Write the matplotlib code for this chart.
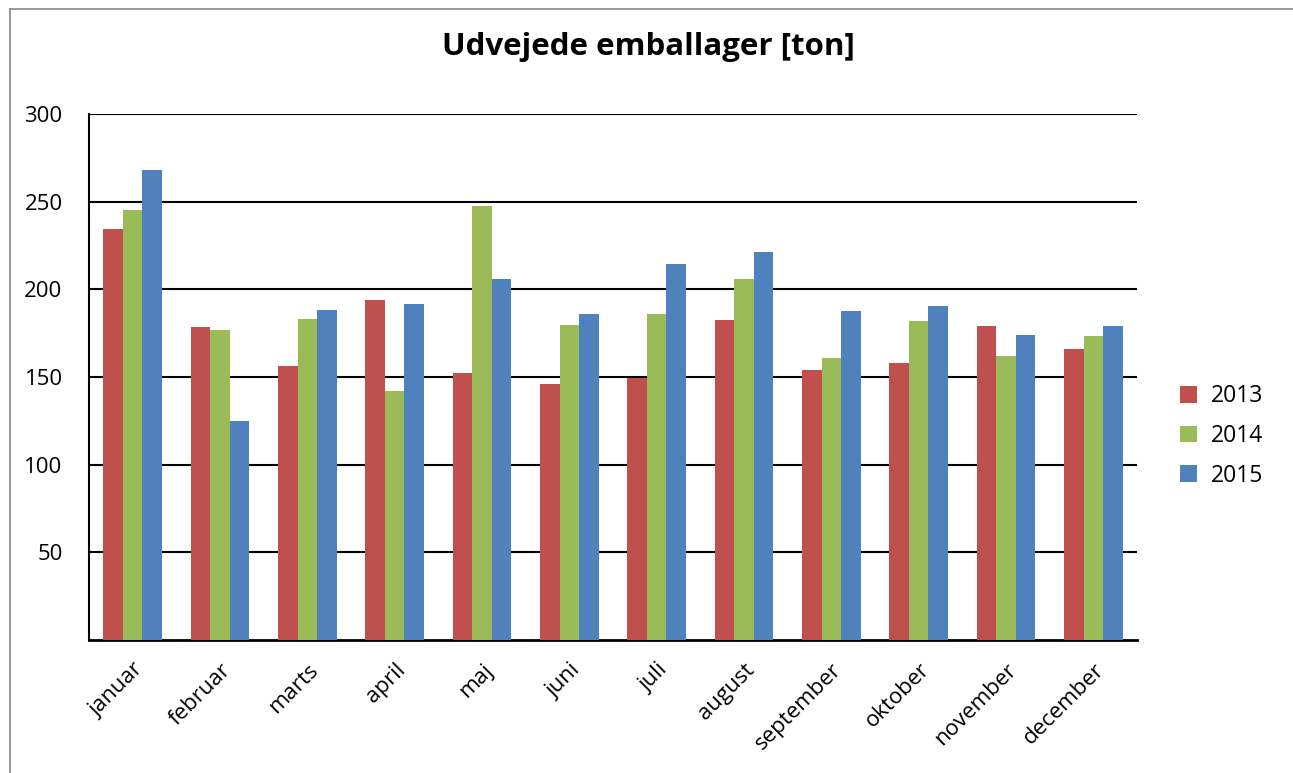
import matplotlib
matplotlib.use("Agg")
import matplotlib.pyplot as plt
import numpy as np

months = ["januar", "februar", "marts", "april", "maj", "juni", "juli",
          "august", "september", "oktober", "november", "december"]
years = ["2013", "2014", "2015"]
v2013 = [234.5, 178.6, 156.4, 194, 152.4, 146, 149.2, 182.7, 154, 158, 179.3, 166]
v2014 = [245, 176.8, 183.3, 142, 247.7, 179.8, 186, 206.1, 160.8, 182, 162, 173.4]
v2015 = [268, 125, 188.3, 191.7, 206.1, 186, 214.5, 221.5, 187.7, 190.7, 174, 179.3]
yticks = [50, 100, 150, 200, 250, 300]
colors = ["#C0504D", "#9BBB59", "#4F81BD"]

plt.rcParams['font.family'] = ['Open Sans', 'DejaVu Sans']

fig = plt.figure(figsize=(12.93, 7.73), dpi=100)
ax = fig.add_axes([89/1293, 133/773, 1048/1293, 526/773])

x = np.arange(len(months))
w = 0.225
for i, (vals, c, lab) in enumerate(zip([v2013, v2014, v2015], colors, years)):
    ax.bar(x + (i - 1) * w, vals, width=w, color=c, label=lab, zorder=3)

ax.set_xlim(-0.5, len(months) - 0.5)
ax.set_ylim(0, 300)
ax.set_yticks(yticks)
ax.set_yticklabels([str(t) for t in yticks], fontsize=16)
ax.yaxis.grid(True, color="black", linewidth=1.5, zorder=0)
ax.set_axisbelow(True)
ax.tick_params(axis='y', length=0, pad=19)
ax.tick_params(axis='x', length=0, pad=14)
ax.set_xticks(x)
ax.set_xticklabels(months, fontsize=16, rotation=45, ha='right', va='top',
                   rotation_mode='anchor')
for s in ["top", "right"]:
    ax.spines[s].set_visible(False)
ax.spines["left"].set_linewidth(1.5)
ax.spines["bottom"].set_linewidth(2.0)

fig.text(648/1293, 1 - 47/773, "Udvejede emballager [ton]", ha='center', va='center',
         fontsize=22.5, fontweight='bold')

leg = fig.legend(*ax.get_legend_handles_labels(), loc='center left',
                 bbox_to_anchor=(1180/1293, 1 - 436/773), frameon=False,
                 fontsize=16.5, handlelength=0.75, handleheight=0.75, labelspacing=0.68,
                 handletextpad=0.6, borderaxespad=0, borderpad=0)

# chart border
fig.add_artist(plt.Line2D([10/1293, 10/1293], [0, 1 - 9/773], transform=fig.transFigure,
                          color="#888888", linewidth=1.2))
fig.add_artist(plt.Line2D([10/1293, 1], [1 - 9/773, 1 - 9/773], transform=fig.transFigure,
                          color="#888888", linewidth=1.2))

fig.savefig("out.png", dpi=100)
